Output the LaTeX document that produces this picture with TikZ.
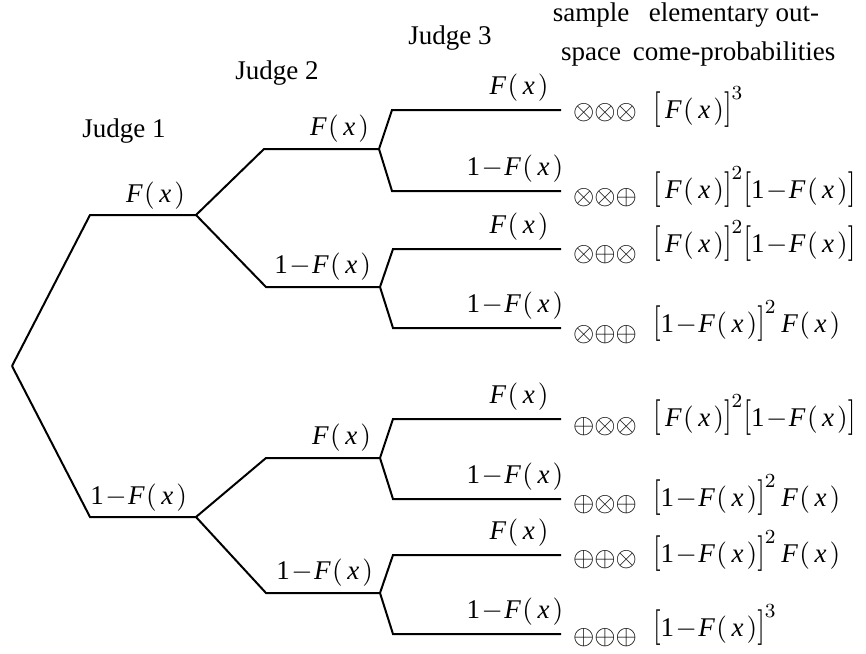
\documentclass[tikz,border=0pt]{standalone}
\usepackage{fontspec}
\setmainfont{Liberation Serif}
\newcommand\vF{\textit{F}}
\newcommand\vx{\textit{x}}
\newcommand\one{\textrm{1}}
\newcommand\Fx{\vF\mskip1mu(\mskip3mu\vx\mskip2mu)}
\newcommand\oFx{\one\mskip1mu{-}\mskip1mu\Fx}
\newcommand\lb{\mathopen{\scalebox{1}[1.3]{$[$}}}
\newcommand\rb{\mathclose{\scalebox{1}[1.3]{$]$}}}
\newcommand\Sq{{\otimes}}
\newcommand\Sp{{\oplus}}
\tikzset{
  branch/.style={line width=0.8pt},
  lab/.style={inner sep=1pt},
  head/.style={inner sep=0pt,align=center},
}
\begin{document}
\begin{tikzpicture}[x=0.4pt,y=-0.4pt,font=\fontsize{10.8}{15.6}\selectfont]
  \useasboundingbox (0,0) rectangle (866,653);
  % tree points
  \path
    (12,366) coordinate (0)
    (90,215) coordinate (1)
    (196,215) coordinate (2)
    (90,517) coordinate (3)
    (196,517) coordinate (4)
    (264,149) coordinate (5)
    (379,149) coordinate (6)
    (266,287) coordinate (7)
    (380,287) coordinate (8)
    (266,458) coordinate (9)
    (380,458) coordinate (10)
    (266,593) coordinate (11)
    (380,593) coordinate (12)
    (392,110) coordinate (13)
    (561,110) coordinate (14)
    (392,191) coordinate (15)
    (561,191) coordinate (16)
    (393,249) coordinate (17)
    (561,249) coordinate (18)
    (393,328) coordinate (19)
    (561,328) coordinate (20)
    (393,419) coordinate (21)
    (561,419) coordinate (22)
    (393,499) coordinate (23)
    (561,499) coordinate (24)
    (393,555) coordinate (25)
    (561,555) coordinate (26)
    (393,634) coordinate (27)
    (561,634) coordinate (28);
  \begin{scope}[branch]
    \draw (0) to (1) to (2);
    \draw (0) to (3) to (4);
    \draw (2) to (5) to (6);
    \draw (2) to (7) to (8);
    \draw (4) to (9) to (10);
    \draw (4) to (11) to (12);
    \draw (6) to (13) to (14);
    \draw (6) to (15) to (16);
    \draw (8) to (17) to (18);
    \draw (8) to (19) to (20);
    \draw (10) to (21) to (22);
    \draw (10) to (23) to (24);
    \draw (12) to (25) to (26);
    \draw (12) to (27) to (28);
  \end{scope}
  % branch labels
  \node[lab,anchor=south east] (f1) at (188,212.5) {$\Fx$};
  \node[lab,anchor=south east] (g1) at (190,514.5) {$\oFx$};
  \node[lab,anchor=south east] (f2) at (372,145.5) {$\Fx$};
  \node[lab,anchor=south east] (g2) at (374,283.5) {$\oFx$};
  \node[lab,anchor=south east] (f3) at (374,454.5) {$\Fx$};
  \node[lab,anchor=south east] (g3) at (376,589.5) {$\oFx$};
  \node[lab,anchor=south] (f4) at (519,104) {$\Fx$};
  \node[lab,anchor=south] (g4) at (515,185) {$\oFx$};
  \node[lab,anchor=south] (f5) at (519,243) {$\Fx$};
  \node[lab,anchor=south] (g5) at (515,322) {$\oFx$};
  \node[lab,anchor=south] (f6) at (519,413) {$\Fx$};
  \node[lab,anchor=south] (g6) at (515,493) {$\oFx$};
  \node[lab,anchor=south] (f7) at (519,549) {$\Fx$};
  \node[lab,anchor=south] (g7) at (515,628) {$\oFx$};
  % headings
  \node[head] (j1) at (124,131) {Judge 1};
  \node[head] (j2) at (277,73) {Judge 2};
  \node[head] (j3) at (450,38) {Judge 3};
  \node[head] (ss) at (591,35) {sample\\space};
  \node[head] (ep) at (734,35) {elementary out-\\come-probabilities};
  % sample space
  \node[lab,anchor=west] (s1) at (570,113) {$\Sq\Sq\Sq$};
  \node[lab,anchor=west] (s2) at (570,198) {$\Sq\Sq\Sp$};
  \node[lab,anchor=west] (s3) at (570,255) {$\Sq\Sp\Sq$};
  \node[lab,anchor=west] (s4) at (570,335) {$\Sq\Sp\Sp$};
  \node[lab,anchor=west] (s5) at (570,427) {$\Sp\Sq\Sq$};
  \node[lab,anchor=west] (s6) at (570,505) {$\Sp\Sq\Sp$};
  \node[lab,anchor=west] (s7) at (570,560) {$\Sp\Sp\Sq$};
  \node[lab,anchor=west] (s8) at (570,638) {$\Sp\Sp\Sp$};
  % elementary outcome probabilities
  \node[lab,anchor=west] (p1) at (650,107) {$\lb\,\Fx\rb^3$};
  \node[lab,anchor=west] (p2) at (650,187) {$\lb\,\Fx\rb^2\lb\oFx\rb$};
  \node[lab,anchor=west] (p3) at (650,241) {$\lb\,\Fx\rb^2\lb\oFx\rb$};
  \node[lab,anchor=west] (p4) at (650,321) {$\lb\oFx\rb^2\,\Fx$};
  \node[lab,anchor=west] (p5) at (650,415) {$\lb\,\Fx\rb^2\lb\oFx\rb$};
  \node[lab,anchor=west] (p6) at (650,495) {$\lb\oFx\rb^2\,\Fx$};
  \node[lab,anchor=west] (p7) at (650,551) {$\lb\oFx\rb^2\,\Fx$};
  \node[lab,anchor=west] (p8) at (650,625) {$\lb\oFx\rb^3$};
\end{tikzpicture}
\end{document}
